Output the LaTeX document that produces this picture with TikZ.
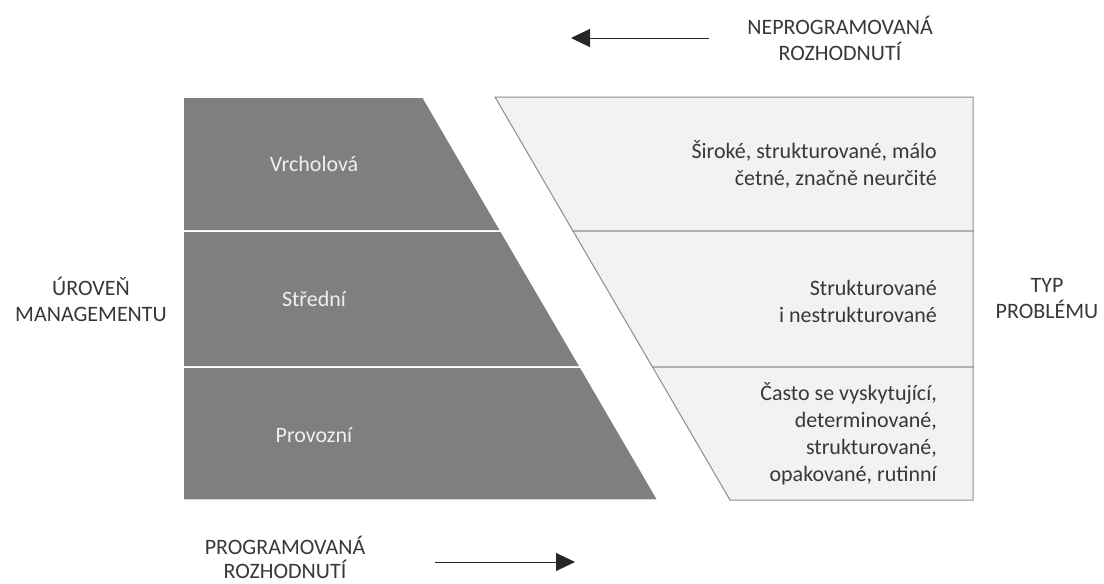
\documentclass[tikz,border=0pt]{standalone}
\usepackage{fontspec}
\setmainfont{Carlito}
\usetikzlibrary{arrows.meta}
\definecolor{darkfill}{HTML}{7F7F7F}
\definecolor{lightfill}{HTML}{F2F2F2}
\definecolor{edgegray}{HTML}{8C8C8C}
\definecolor{txtgray}{HTML}{383838}
\begin{document}
\begin{tikzpicture}[x=1pt,y=-1pt,
  lvl/.style={fill=darkfill,draw=white,line width=1.5pt},
  prob/.style={fill=lightfill,draw=edgegray,line width=1pt},
  wtxt/.style={text=white!94!black,font=\fontsize{22}{27}\selectfont,inner sep=0pt},
  gtxt/.style={text=txtgray,font=\fontsize{22}{26}\selectfont,align=center,inner sep=0pt},
  rtxt/.style={text=txtgray,font=\fontsize{22}{27}\selectfont,align=right,anchor=east,inner sep=0pt},
  arr/.style={draw=black!85,line width=1pt,-{Triangle[length=19pt,width=18pt]}}]
\useasboundingbox (0,0) rectangle (1104,584);
% left trapezoid (management levels)
\draw[lvl] (183,97) -- (423,97) -- (501,231) -- (183,231) -- cycle;
\draw[lvl] (183,231) -- (501,231) -- (580.5,367) -- (183,367) -- cycle;
\draw[lvl] (183,367) -- (580.5,367) -- (658,500) -- (183,500) -- cycle;
% right shape (problem types)
\draw[prob] (495,97) -- (973,97) -- (973,231) -- (573,231) -- cycle;
\draw[prob] (573,231) -- (973,231) -- (973,367) -- (652.5,367) -- cycle;
\draw[prob] (652.5,367) -- (973,367) -- (973,500) -- (730,500) -- cycle;
% level labels
\node[wtxt] (vrch) at (314,164) {Vrcholová};
\node[wtxt] (stred) at (314,299) {Střední};
\node[wtxt] (prov) at (314,435) {Provozní};
% problem labels
\node[rtxt] (p1) at (937,164) {Široké, strukturované, málo\\četné, značně neurčité};
\node[rtxt] (p2) at (937,301) {Strukturované\\i nestrukturované};
\node[rtxt] (p3) at (937,434) {Často se vyskytující,\\determinované,\\strukturované,\\opakované, rutinní};
% side labels
\node[gtxt] (uroven) at (91,299) {ÚROVEŇ\\MANAGEMENTU};
\node[gtxt] (typ) at (1047,299) {TYP\\PROBLÉMU};
\node[gtxt] (neprog) at (840,38) {NEPROGRAMOVANÁ\\ROZHODNUTÍ};
\node[gtxt,font=\fontsize{22}{24}\selectfont] (prog) at (285,557) {PROGRAMOVANÁ\\ROZHODNUTÍ};
% arrows
\coordinate (ta) at (709,38);
\coordinate (tb) at (571,38);
\coordinate (ba) at (435,562);
\coordinate (bb) at (575,562);
\draw[arr] (ta) -- (tb);
\draw[arr] (ba) -- (bb);
\end{tikzpicture}
\end{document}
